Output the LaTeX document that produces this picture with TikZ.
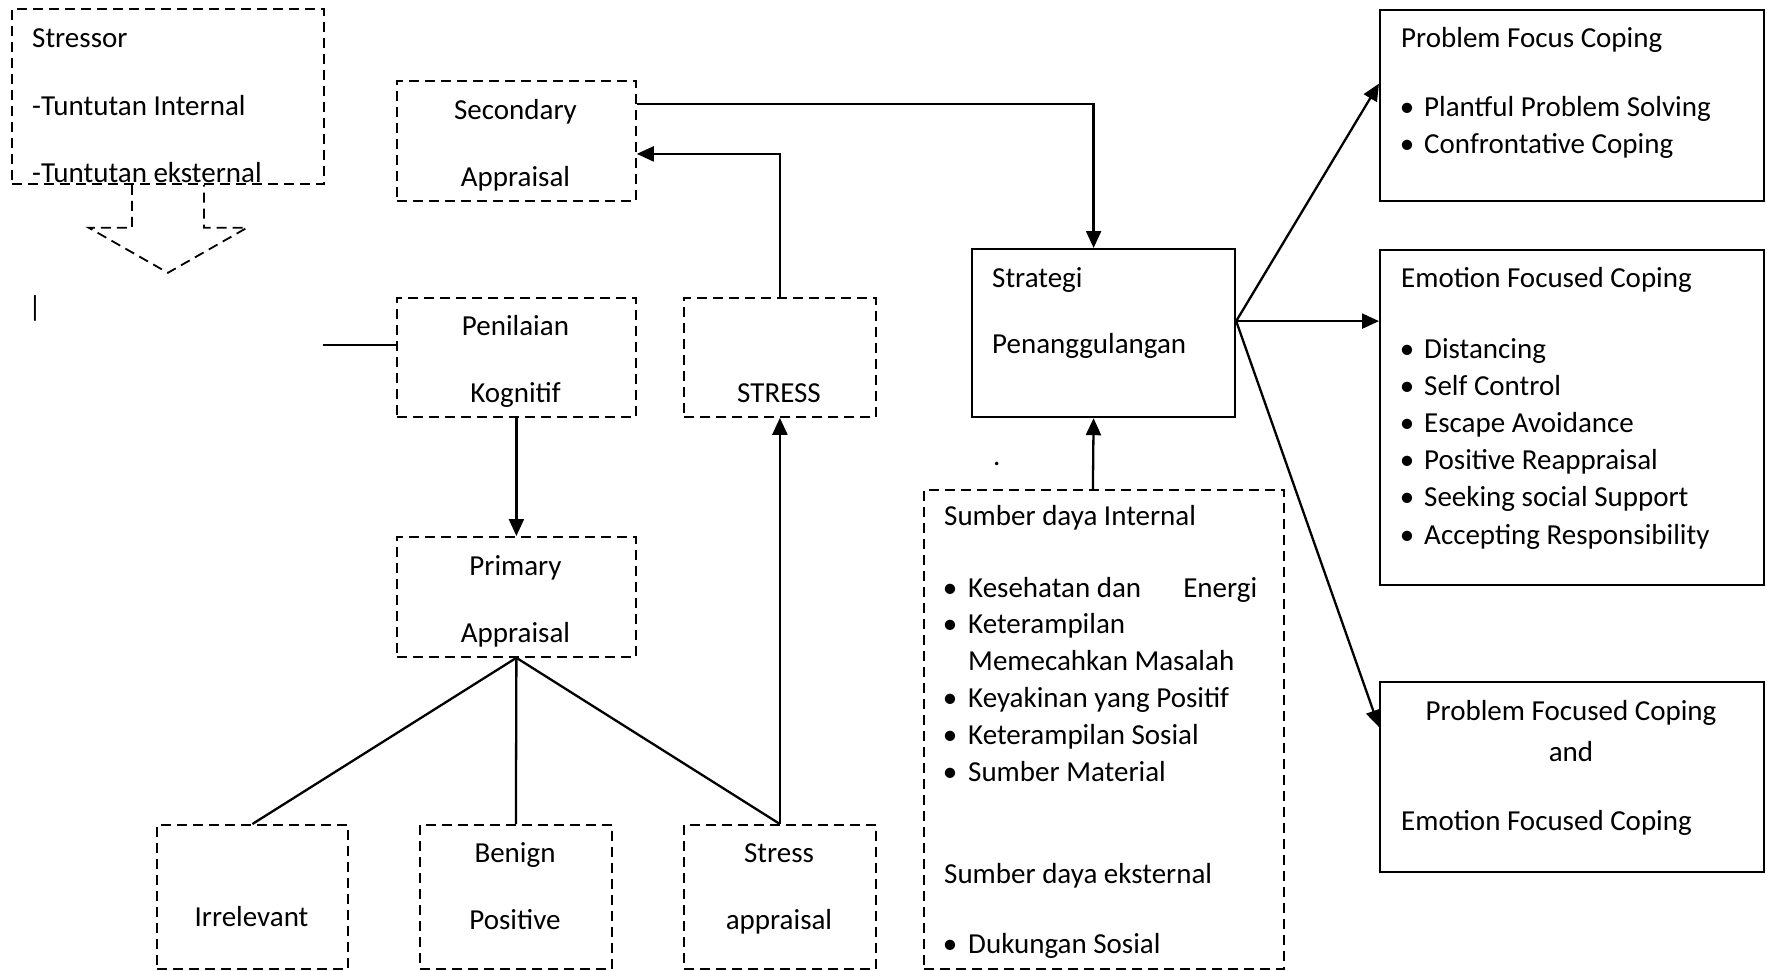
\documentclass[tikz,border=0pt]{standalone}
\usepackage{fontspec}
\setmainfont{Carlito}
\usetikzlibrary{arrows.meta,calc}
\newcommand{\fsz}{\fontsize{29}{37}\selectfont}
\begin{document}
\begin{tikzpicture}[x=1pt,y=-1pt,
  dbox/.style={draw, dash pattern=on 10pt off 6pt, line width=1.8pt, inner sep=0pt, rectangle, anchor=north west},
  sbox/.style={draw, line width=2.2pt, inner sep=0pt, rectangle, anchor=north west},
  dline/.style={dash pattern=on 10pt off 6pt, line width=1.8pt},
  txt/.style={inner sep=0pt, font=\fsz},
  tl/.style={txt, anchor=base west},
  tc/.style={txt, anchor=base},
  con/.style={line width=2.3pt},
  arr/.style={con, -{Triangle[length=17pt,width=15pt]}}]
\useasboundingbox (0,0) rectangle (1767,970);

% boxes
\node[dbox, minimum width=312pt, minimum height=175pt] (stressor) at (11,8) {};
\node[dbox, minimum width=239pt, minimum height=120pt] (secondary) at (396,80) {};
\node[dbox, minimum width=239pt, minimum height=119pt] (penilaian) at (396,297) {};
\node[dbox, minimum width=192pt, minimum height=119pt] (stress) at (683,297) {};
\node[dbox, minimum width=239pt, minimum height=120pt] (primary) at (396,536) {};
\node[dbox, minimum width=191pt, minimum height=144pt] (irrel) at (156,824) {};
\node[dbox, minimum width=192pt, minimum height=144pt] (benign) at (419,824) {};
\node[dbox, minimum width=192pt, minimum height=144pt] (sappr) at (683,824) {};
\node[sbox, minimum width=263pt, minimum height=168pt] (strategi) at (971,248) {};
\node[dbox, minimum width=360pt, minimum height=479pt] (sumber) at (923,489) {};
\node[sbox, minimum width=384pt, minimum height=191pt] (pfc) at (1379,9) {};
\node[sbox, minimum width=384pt, minimum height=335pt] (efc) at (1379,249) {};
\node[sbox, minimum width=384pt, minimum height=190pt] (combo) at (1379,681) {};

% stressor texts
\node[tl] (t1) at (32,47) {Stressor};
\node[tl] (t2) at (32,115) {-Tuntutan Internal};
\node[tl] (t3) at (32,182) {-Tuntutan eksternal};
% dashed block arrow
\draw[dline] ($(stressor.south)+(-36,0)$) -- ++(0,43) -- ++(-43,0) -- ($(stressor.south)+(0,88)$)
  -- ($(stressor.south)+(79,43)$) -- ++(-43,0) -- ++(0,-43);
\node[txt, anchor=center] (bar) at (35,308) {|};

% middle column texts
\node[tc] (t4) at (515.5,119) {Secondary};
\node[tc] (t5) at (515.5,186) {Appraisal};
\node[tc] (t6) at (515.5,335) {Penilaian};
\node[tc] (t7) at (515.5,402) {Kognitif};
\node[tc] (t8) at (779,402) {STRESS};
\node[tc] (t9) at (515.5,575) {Primary};
\node[tc] (t10) at (515.5,642) {Appraisal};
\node[tc] (t11) at (251.5,926) {Irrelevant};
\node[tc] (t12) at (515,862) {Benign};
\node[tc] (t13) at (515,929) {Positive};
\node[tc] (t14) at (779,862) {Stress};
\node[tc] (t15) at (779,929) {appraisal};

% strategi
\node[tl] (t16) at (992,287) {Strategi};
\node[tl] (t17) at (992,353) {Penanggulangan};
\node[tl] (t18) at (993,465) {.};

% sumber
\node[tl] (s0) at (944,525) {Sumber daya Internal};
\foreach \yy/\nm in {597/b1,633/b2,707/b3,744/b4,781/b5,953/b6}
  \node[tc] (\nm) at (950,\yy) {\textbullet};
\node[tl] (s1) at (968,597) {\hbox to 289pt{Kesehatan dan\hfill Energi}};
\node[tl] (s2) at (968,633) {Keterampilan};
\node[tl] (s3) at (968,670) {Memecahkan Masalah};
\node[tl] (s4) at (968,707) {Keyakinan yang Positif};
\node[tl] (s5) at (968,744) {Keterampilan Sosial};
\node[tl] (s6) at (968,781) {Sumber Material};
\node[tl] (s7) at (944,883) {Sumber daya eksternal};
\node[tl] (s8) at (968,953) {Dukungan Sosial};

% right boxes
\node[tl] (p0) at (1401,47) {Problem Focus Coping};
\node[tc] (pb1) at (1407,116) {\textbullet};
\node[tc] (pb2) at (1407,153) {\textbullet};
\node[tl] (p1) at (1424,116) {Plantful Problem Solving};
\node[tl] (p2) at (1424,153) {Confrontative Coping};

\node[tl] (e0) at (1401,287) {Emotion Focused Coping};
\foreach \yy/\nm/\tx in {358/e1/Distancing,395/e2/Self Control,432/e3/Escape Avoidance,469/e4/Positive Reappraisal,506/e5/Seeking social Support,544/e6/Accepting Responsibility}{
  \node[tc] (\nm b) at (1407,\yy) {\textbullet};
  \node[tl] (\nm) at (1424,\yy) {\tx};
}

\node[tc] (c1) at (1571,720) {Problem Focused Coping};
\node[tc] (c2) at (1571,761) {and};
\node[tl] (c3) at (1401,830) {Emotion Focused Coping};

% connectors
\coordinate (lineStart) at (323,345);
\draw[con] (lineStart) -- (lineStart -| penilaian.west);
\draw[arr] ($(secondary.east)+(0,-37)$) -| ($(strategi.north)+(-10,0)$);
\draw[arr] (stress.north) |- ($(secondary.east)+(0,13)$);
\draw[arr] (penilaian.south) -- (primary.north);
\draw[con] (primary.south) -- (irrel.north);
\draw[con] (primary.south) -- (benign.north);
\draw[con] (primary.south) -- (sappr.north);
\draw[arr] (sappr.north) -- (stress.south);
\draw[arr] ($(sumber.north)+(-11,0)$) -- ($(strategi.south)+(-10,0)$);
\coordinate (sout) at ($(strategi.east)+(0,-12)$);
\draw[arr] (sout) -- ($(pfc.west)+(0,-22)$);
\draw[arr] (sout) -- (sout -| efc.west);
\draw[arr] (sout) -- ($(combo.west)+(0,-50)$);
\end{tikzpicture}
\end{document}
